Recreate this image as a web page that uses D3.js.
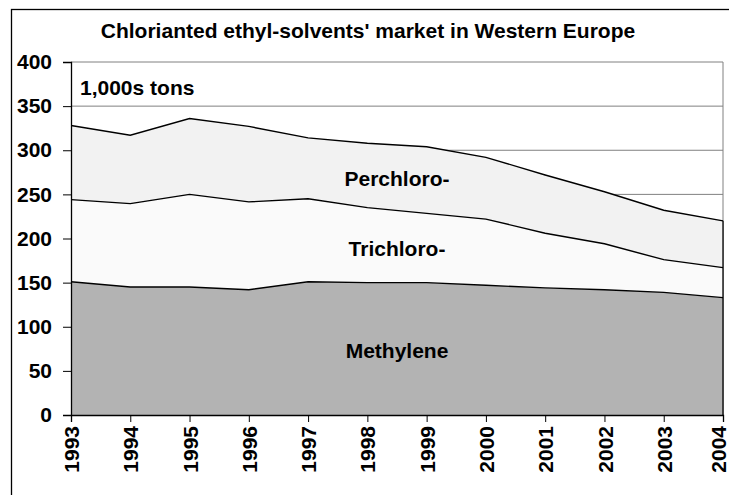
<!DOCTYPE html>
<html><head><meta charset="utf-8">
<script src="https://cdn.jsdelivr.net/npm/d3@7"></script>
<style>html,body{margin:0;padding:0;background:#fff;}svg{display:block;}</style>
</head><body>
<svg id="c" width="729" height="495"></svg>
<script>
const years = ["1993","1994","1995","1996","1997","1998","1999","2000","2001","2002","2003","2004"];
const methylene = [151, 145, 145, 142, 151, 150, 150, 147, 144, 142, 139, 133];
const trichloro = [93, 94.5, 105, 99.5, 94, 85, 78.5, 75, 62, 52, 37, 34];
const perchloro = [84, 77.5, 86, 85.5, 69, 73, 75.5, 70, 66, 59, 56, 53];
const seriesNames = ["Methylene", "Trichloro-", "Perchloro-"];
const seriesFills = ["#b3b3b3", "#fafafa", "#f2f2f2"];
const yTicks = [0, 50, 100, 150, 200, 250, 300, 350, 400];
const title = "Chlorianted ethyl-solvents' market in Western Europe";
const unitLabel = "1,000s tons";

const svg = d3.select("#c");
const font = "'Liberation Sans', Arial, sans-serif";
const L = 71, R = 723, T = 62, B = 415;

// outer border
svg.append("rect").attr("x", 11.5).attr("y", 9.5).attr("width", 760).attr("height", 520)
  .attr("fill", "none").attr("stroke", "#000").attr("stroke-width", 1.3);

const x = d3.scalePoint().domain(years).range([L, R]);
const y = d3.scaleLinear().domain([0, 400]).range([B, T]);

const table = years.map((yr, i) => ({year: yr, Methylene: methylene[i], "Trichloro-": trichloro[i], "Perchloro-": perchloro[i]}));
const stacked = d3.stack().keys(seriesNames)(table);

// gridlines
svg.append("g").selectAll("line").data(yTicks.filter(v => v > 0)).join("line")
  .attr("x1", L).attr("x2", R).attr("y1", d => y(d)).attr("y2", d => y(d))
  .attr("stroke", "#808080").attr("stroke-width", 1);
svg.append("line").attr("x1", R).attr("x2", R).attr("y1", T).attr("y2", B)
  .attr("stroke", "#808080").attr("stroke-width", 1);

const area = d3.area().x(d => x(d.data.year)).y0(d => y(d[0])).y1(d => y(d[1]));
const line = d3.line().x(d => x(d.data.year)).y(d => y(d[1]));

svg.append("g").selectAll("path").data(stacked).join("path")
  .attr("d", area).attr("fill", (d, i) => seriesFills[i]);
svg.append("g").selectAll("path").data(stacked).join("path")
  .attr("d", line).attr("fill", "none").attr("stroke", "#000").attr("stroke-width", 1.4);
// right edge of stack
const last = stacked[stacked.length - 1][years.length - 1];
svg.append("line").attr("x1", R).attr("x2", R).attr("y1", y(last[1])).attr("y2", B)
  .attr("stroke", "#000").attr("stroke-width", 1.3);

// axes
const yAxis = d3.axisLeft(y).tickValues(yTicks).tickSize(8).tickPadding(11);
const gy = svg.append("g").attr("transform", `translate(${L},0)`).call(yAxis);
gy.select(".domain").attr("stroke", "#000").attr("stroke-width", 1.3);
gy.selectAll(".tick line").attr("stroke", "#000");
gy.selectAll("text").attr("font-family", font).attr("font-weight", "bold").attr("font-size", 21).attr("fill", "#000");

const xAxis = d3.axisBottom(x).tickSize(7).tickPadding(0);
const gx = svg.append("g").attr("transform", `translate(0,${B})`).call(xAxis);
gx.select(".domain").attr("stroke", "#000").attr("stroke-width", 1.3);
gx.selectAll(".tick line").attr("stroke", "#000");
gx.selectAll("text").attr("font-family", font).attr("font-weight", "bold").attr("font-size", 21).attr("fill", "#000")
  .attr("transform", "rotate(-90)").attr("text-anchor", "end")
  .attr("dy", (d, i) => i === years.length - 1 ? "0.1em" : "0.36em").attr("x", -11).attr("y", 0);

// title
svg.append("text").attr("x", 368).attr("y", 38).attr("text-anchor", "middle")
  .attr("font-family", font).attr("font-weight", "bold").attr("font-size", 21).text(title);
svg.append("text").attr("x", 80).attr("y", 94.5)
  .attr("font-family", font).attr("font-weight", "bold").attr("font-size", 21).text(unitLabel);

// series labels
const labelY = [358, 256, 186];
svg.append("g").selectAll("text").data(seriesNames).join("text")
  .attr("x", (L + R) / 2).attr("y", (d, i) => labelY[i]).attr("text-anchor", "middle")
  .attr("font-family", font).attr("font-weight", "bold").attr("font-size", 21).text(d => d);
</script>
</body></html>
